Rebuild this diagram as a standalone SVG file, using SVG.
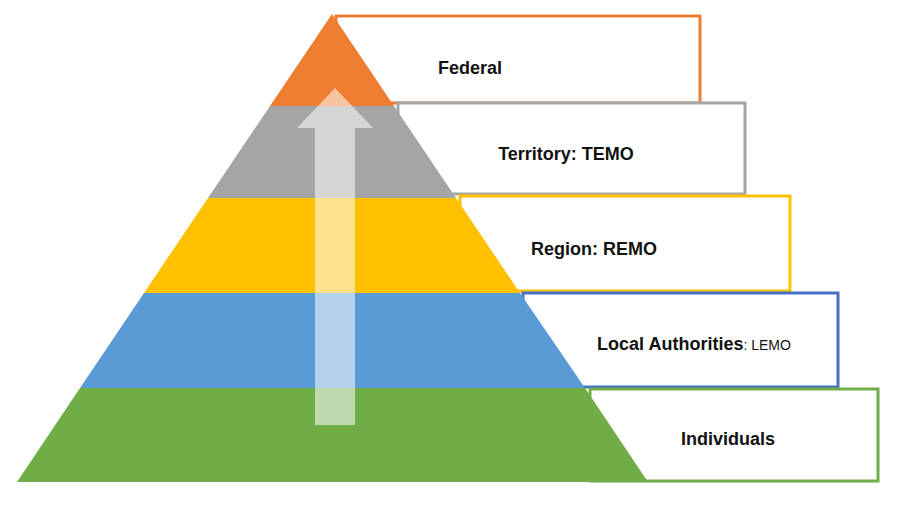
<svg xmlns="http://www.w3.org/2000/svg" width="900" height="505" viewBox="0 0 900 505">
<style>
.box{fill:#fff;stroke-width:3}
.t{font-family:"Liberation Sans",Arial,sans-serif;font-weight:bold;font-size:18px;fill:#111;text-anchor:middle}
</style>
<rect width="900" height="505" fill="#fff"/>
<g id="box-federal"><rect class="box" x="336" y="16" width="364" height="87" stroke="#ed7d31"/></g>
<g id="box-territory"><rect class="box" x="398" y="103" width="347" height="91" stroke="#a5a5a5"/></g>
<g id="box-region"><rect class="box" x="460" y="196" width="330" height="95" stroke="#ffc000"/></g>
<g id="box-local"><rect class="box" x="523" y="293" width="315" height="94" stroke="#4472c4"/></g>
<g id="box-individuals"><rect class="box" x="590" y="389" width="288" height="92" stroke="#70ad47"/></g>
<g id="pyramid">
<polygon points="332,14 394,106 270,106" fill="#ed7d31"/>
<polygon points="270,106 394,106 456,198 208,198" fill="#a5a5a5"/>
<polygon points="208,198 456,198 520,293 144,293" fill="#ffc000"/>
<polygon points="144,293 520,293 585,388 80,388" fill="#5b9bd5"/>
<polygon points="80,388 585,388 648,482 17,482" fill="#70ad47"/>
</g>
<g id="connectors">
<polygon points="315,425 355,425 355,128 373,128 335,88 297,128 315,128" fill="#fff" fill-opacity="0.55"/>
</g>
<g id="labels">
<text class="t" x="470" y="74">Federal</text>
<text class="t" x="566" y="160">Territory: TEMO</text>
<text class="t" x="594" y="255">Region: REMO</text>
<text class="t" x="694" y="350">Local Authorities<tspan font-weight="normal" font-size="14">: LEMO</tspan></text>
<text class="t" x="728" y="445">Individuals</text>
</g>
</svg>
